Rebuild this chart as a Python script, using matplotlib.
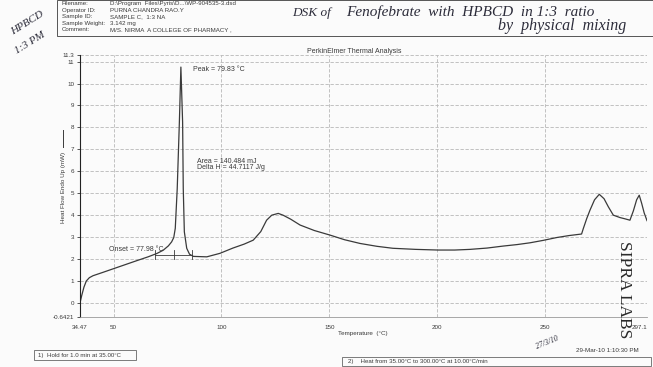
import numpy as np
import matplotlib
matplotlib.use("Agg")
import matplotlib.pyplot as plt
from matplotlib.lines import Line2D
from matplotlib.patches import Rectangle

W, H = 653, 367

# DSC trace (temperature in C, heat flow in mW)
temp_c = [34.47, 35.3, 36.3, 37.4, 38.8, 40.5, 45, 50, 55, 60, 66, 70, 73,
          75.4, 76.9, 77.9, 78.6, 79.5, 80.5, 81.2, 82.0, 82.3, 82.8, 83.9,
          85.2, 87, 93.2, 99.3, 105.3, 110.5, 114.7, 118.2, 120.9, 123.3,
          126.3, 128.5, 132, 136.4, 143, 150.3, 157, 164.2, 172, 179.4, 190,
          200.3, 208, 215.1, 223, 230.4, 237, 242.9, 249, 255.3, 261, 266.8,
          267.6, 269.2, 270.7, 272.8, 275, 277.2, 279.2, 281.5, 284.6, 287,
          289.2, 290.8, 292.3, 293.5, 294.6, 295.8, 297.1]
heat_mw = [0.0, 0.35, 0.72, 1.0, 1.15, 1.24, 1.39, 1.56, 1.73, 1.9, 2.1, 2.25,
           2.4, 2.6, 2.78, 2.98, 3.4, 5.2, 8.24, 10.75, 8.24, 5.2, 3.24, 2.49,
           2.22, 2.12, 2.1, 2.26, 2.5, 2.68, 2.86, 3.25, 3.77, 4.0, 4.08, 4.0,
           3.82, 3.55, 3.3, 3.09, 2.88, 2.71, 2.58, 2.49, 2.44, 2.41, 2.41,
           2.44, 2.5, 2.59, 2.66, 2.74, 2.85, 2.98, 3.07, 3.14, 3.39, 3.85,
           4.23, 4.7, 4.95, 4.75, 4.38, 4.0, 3.89, 3.83, 3.77, 4.2, 4.7, 4.91,
           4.55, 4.1, 3.75]

onset_ticks = [69.2, 78.1, 86.2]
onset_base = 2.2

xticks = [34.47, 50, 100, 150, 200, 250, 297.1]
xtick_labels = ["34.47", "50", "100", "150", "200", "250", "297.1"]
yticks = [-0.6421, 0, 1, 2, 3, 4, 5, 6, 7, 8, 9, 10, 11, 11.3]
ytick_labels = ["-0.6421"] + [str(v) for v in range(12)] + ["11.3"]

header_labels = ["Filename:", "Operator ID:", "Sample ID:", "Sample Weight:", "Comment:"]
header_values = ["D:\\Program  Files\\Pyris\\D...\\WP-904535-3.dsd",
                 "PURNA CHANDRA RAO.Y",
                 "SAMPLE C,  1:3 NA",
                 "3.142 mg",
                 "M/S. NIRMA  A COLLEGE OF PHARMACY ,"]

plt.rcParams["font.family"] = ["Liberation Sans", "DejaVu Sans"]
ink = "#3a3a3a"
pen = "#2c2c3a"

fig = plt.figure(figsize=(W / 100, H / 100), dpi=100)
fig.patch.set_facecolor("#fbfbfb")


def px(x, y):
    return x / W, 1 - y / H


def ftext(x, y, s, **kw):
    return fig.text(*px(x, y), s, **kw)


ax = fig.add_axes([80 / W, 1 - 317 / H, (647 - 80) / W, (317 - 55) / H])
ax.set_facecolor("none")
ax.plot(temp_c, heat_mw, color=ink, lw=0.9)

# onset construction
ax.plot([onset_ticks[0], onset_ticks[-1]], [onset_base, onset_base], color=ink, lw=0.6)
for t in onset_ticks:
    ax.plot([t, t], [onset_base - 0.22, onset_base + 0.2], color=ink, lw=0.6)

ax.set_xlim(34.47, 297.1)
ax.set_ylim(-0.6421, 11.3)
ax.set_xticks(xticks)
ax.set_xticklabels(xtick_labels)
ax.set_yticks(yticks)
ax.set_yticklabels(ytick_labels)
ax.tick_params(axis="x", length=0, pad=6, labelsize=4.5, colors=ink)
ax.tick_params(axis="y", length=2.5, pad=1.5, width=0.6, labelsize=4.5, colors=ink)
ax.get_xticklabels()[-1].set_horizontalalignment("right")
ax.grid(True, ls=(0, (4, 2)), color="#b8b8b8", lw=0.6)
for s in ["top", "right"]:
    ax.spines[s].set_visible(False)
ax.spines["left"].set_color("#222222")
ax.spines["left"].set_linewidth(0.8)
ax.spines["bottom"].set_color("#9a9a9a")
ax.spines["bottom"].set_linewidth(0.6)

ax.text(86.8, 10.64, "Peak = 79.83 \u00b0C", fontsize=5, color=ink, va="center")
ax.text(88.7, 6.3, "Area = 140.484 mJ\nDelta H = 44.7117 J/g", fontsize=5,
        color=ink, va="center", linespacing=0.85)
ax.text(47.9, 2.42, "Onset = 77.98 \u00b0C", fontsize=5, color=ink, va="center")

# axis titles
ftext(363, 333, "Temperature  (\u00b0C)", fontsize=4.5, color=ink, ha="center", va="center")
ftext(63, 187, "Heat Flow Endo Up (mW)", fontsize=4.5, color=ink, rotation=90,
      ha="center", va="center")
fig.add_artist(Line2D([63 / W, 63 / W], [1 - 147 / H, 1 - 130 / H], color=ink, lw=0.7))
ftext(354, 51.5, "PerkinElmer Thermal Analysis", fontsize=5, color=ink,
      ha="center", va="center")

# header box
fig.add_artist(Rectangle(px(57, 36), (653 - 57) / W, 36 / H, fill=False,
                         ec="#555555", lw=0.7))
for i, (lab, val) in enumerate(zip(header_labels, header_values)):
    y = 3.8 + i * 6.4
    ftext(62, y, lab, fontsize=4.4, color=ink, va="center")
    ftext(110, y, val, fontsize=4.4, color=ink, va="center")

# handwritten notes
hand = dict(family=["Liberation Serif", "DejaVu Serif"], style="italic", color=pen)
ftext(292, 13, "DSK of", fontsize=9.5, va="center", **hand)
ftext(346, 12, "Fenofebrate  with  HPBCD  in 1:3  ratio", fontsize=11, va="center", **hand)
ftext(498, 26, "by  physical  mixing", fontsize=11.5, va="center", **hand)
ftext(27, 23, "HPBCD", fontsize=8, rotation=32, ha="center", va="center", **hand)
ftext(30, 43, "1:3 PM", fontsize=8, rotation=32, ha="center", va="center", **hand)
ftext(547, 343, "27/3/10", fontsize=5.5, rotation=22, ha="center", va="center", **hand)

# stamp
ftext(624, 290, "SIPRA LABS", fontsize=12.5, rotation=270, ha="center", va="center",
      family=["Liberation Serif", "DejaVu Serif"], color="#2a2a2a")

# footer
ftext(607, 351, "29-Mar-10 1:10:30 PM", fontsize=4.5, color=ink, ha="center", va="center")
fig.add_artist(Rectangle(px(34, 360), (136 - 34) / W, 10 / H, fill=False, ec="#666666", lw=0.6))
ftext(38, 355, "1)  Hold for 1.0 min at 35.00\u00b0C", fontsize=4.4, color=ink, va="center")
fig.add_artist(Rectangle(px(342, 366), (651 - 342) / W, 9 / H, fill=False, ec="#666666", lw=0.6))
ftext(348, 361.5, "2)    Heat from 35.00\u00b0C to 300.00\u00b0C at 10.00\u00b0C/min", fontsize=4.4,
      color=ink, va="center")

fig.savefig("out.png", dpi=100, facecolor=fig.get_facecolor())
